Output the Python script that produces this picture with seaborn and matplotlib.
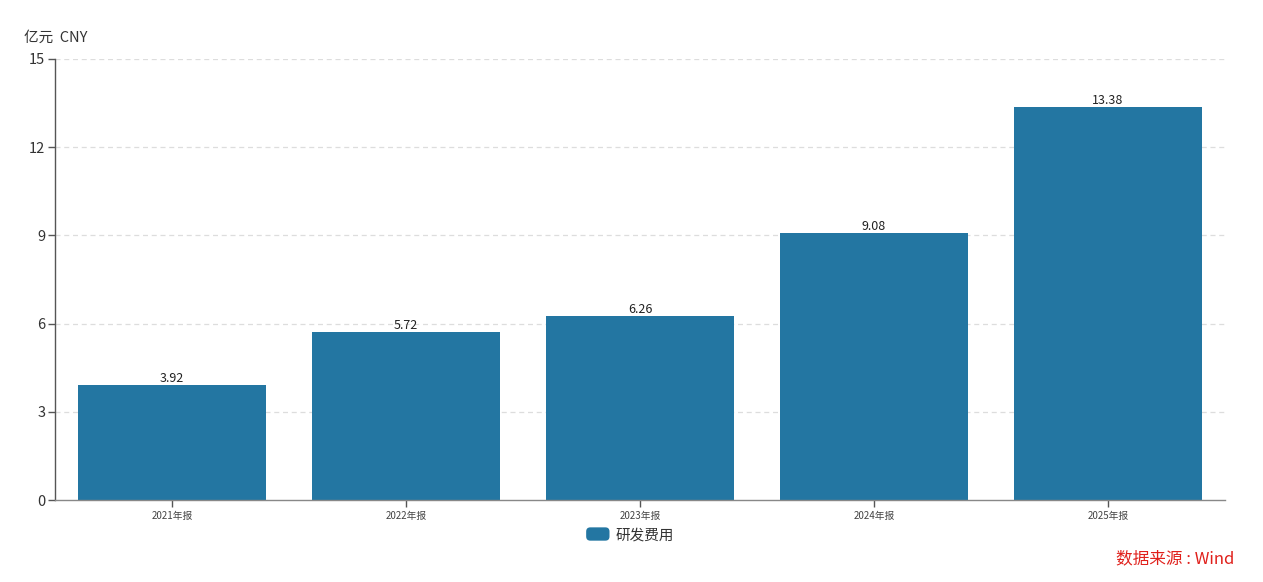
import matplotlib
matplotlib.use("Agg")
import matplotlib.pyplot as plt
import seaborn as sns
import pandas as pd
from matplotlib.patches import FancyBboxPatch
from matplotlib.legend_handler import HandlerPatch

categories = ["2021年报", "2022年报", "2023年报", "2024年报", "2025年报"]
values = [3.92, 5.72, 6.26, 9.08, 13.38]
series_name = "研发费用"
yticks = [0, 3, 6, 9, 12, 15]

sns.set_theme(style="white")
plt.rcParams['font.family'] = ['Noto Sans CJK SC', 'DejaVu Sans']

W, H = 1263, 582
fig = plt.figure(figsize=(W / 100, H / 100), dpi=100)
ax = fig.add_axes([55 / W, 1 - 500 / H, (1225 - 55) / W, (500 - 59) / H])

df = pd.DataFrame({"cat": categories, "val": values})
bar_color = "#2376a2"
sns.barplot(data=df, x="cat", y="val", ax=ax, color=bar_color, width=0.8,
            saturation=1, edgecolor="none")

ax.set_ylim(0, 15)
ax.set_xlim(-0.5, len(categories) - 0.5)
ax.set_yticks(yticks)
ax.set_yticklabels([str(t) for t in yticks], fontsize=10.5, color="#333333")
ax.tick_params(axis="y", length=5, width=1, color="#555555", pad=2, left=True)
ax.tick_params(axis="x", length=5, width=1, color="#555555", pad=3, labelsize=7,
               labelcolor="#444444", bottom=True)
ax.set_xlabel("")
ax.set_ylabel("")
for t in yticks[1:]:
    ax.axhline(t, color="#dddddd", lw=0.9, ls=(0, (4, 3)), zorder=0)
for s in ["top", "right"]:
    ax.spines[s].set_visible(False)
ax.spines["left"].set_color("#555555")
ax.spines["bottom"].set_color("#888888")
ax.spines["left"].set_linewidth(1)
ax.spines["bottom"].set_linewidth(1)

for c in ax.containers:
    ax.bar_label(c, labels=[f"{v:.2f}" for v in values], fontsize=9,
                 color="#222222", padding=0)

fig.text(24 / W, 1 - 38 / H, "亿元  CNY", fontsize=10.5, color="#333333",
         ha="left", va="center")

class RoundHandler(HandlerPatch):
    def create_artists(self, legend, orig_handle, xdescent, ydescent, width,
                       height, fontsize, trans):
        p = FancyBboxPatch((-xdescent, -ydescent - height * 0.05), width,
                           height * 1.1, boxstyle="round,pad=0,rounding_size=3",
                           fc=bar_color, ec="none", transform=trans)
        return [p]

handle = plt.Rectangle((0, 0), 1, 1, fc=bar_color)
fig.legend([handle], [series_name], loc="center", bbox_to_anchor=(630 / W, 1 - 535 / H),
           frameon=False, fontsize=10.5, handlelength=1.6, handleheight=0.9,
           handletextpad=0.4, handler_map={plt.Rectangle: RoundHandler()},
           labelcolor="#333333")

fig.text(1234 / W, 1 - 559 / H, "数据来源 : Wind", fontsize=12, color="#e0201b",
         ha="right", va="center")

fig.savefig("out.png", dpi=100)
